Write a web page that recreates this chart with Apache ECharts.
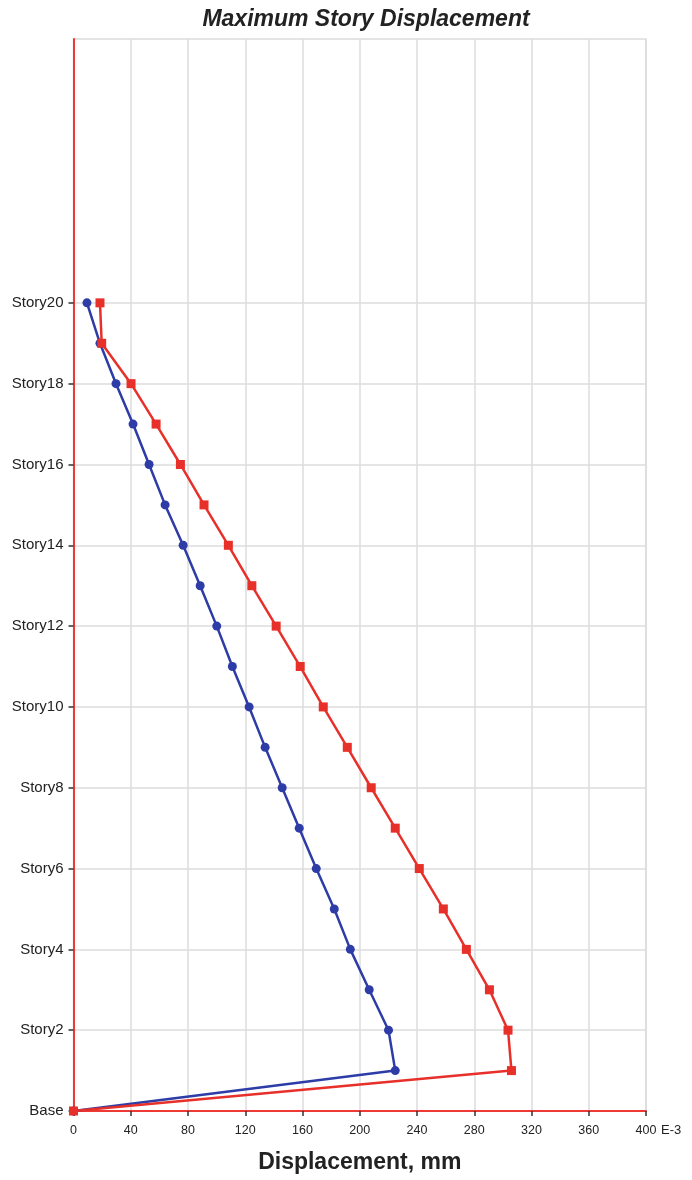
<!DOCTYPE html>
<html>
<head>
<meta charset="utf-8">
<script src="https://cdn.jsdelivr.net/npm/echarts@6/dist/echarts.min.js"></script>
<style>html,body{margin:0;padding:0;background:#fff}#c{width:692px;height:1180px}</style>
</head>
<body>
<div id="c"></div>
<script>
// Story levels (0 = Base) and their names
const storyLevels = [0,1,2,3,4,5,6,7,8,9,10,11,12,13,14,15,16,17,18,19,20];
const storyNames = ['Base','Story1','Story2','Story3','Story4','Story5','Story6','Story7','Story8','Story9','Story10',
  'Story11','Story12','Story13','Story14','Story15','Story16','Story17','Story18','Story19','Story20'];
// Displacement values (E-3 mm), Base -> Story20
const blueValues = [0, 224.8, 220.1, 206.6, 193.4, 182.2, 169.6, 157.7, 145.8, 133.9, 122.7,
  111.0, 100.1, 88.5, 76.6, 64.0, 52.8, 41.6, 29.7, 18.5, 9.4];
const redValues = [0, 306.0, 303.6, 290.6, 274.5, 258.4, 241.6, 224.8, 208.0, 191.3, 174.5,
  158.4, 141.6, 124.6, 108.2, 91.2, 74.7, 57.7, 40.2, 19.7, 18.5];
// Axis ticks
const xTicks = [0,40,80,120,160,200,240,280,320,360,400];
const yTickLevels = [0,2,4,6,8,10,12,14,16,18,20];

const textColor = '#222';
const chart = echarts.init(document.getElementById('c'));
chart.setOption({
  animation: false,
  backgroundColor: '#fff',
  title: {
    text: 'Maximum Story Displacement',
    left: 361, top: 3, textAlign: 'center',
    textStyle: {fontFamily: 'Liberation Sans', fontStyle: 'italic', fontWeight: 'bold', fontSize: 23, color: textColor}
  },
  grid: {left: 73.5, right: 46, top: 39, bottom: 69, show: true, borderColor: '#dcdcdc', borderWidth: 1.5, backgroundColor: 'transparent'},
  xAxis: {
    type: 'value', min: xTicks[0], max: xTicks[xTicks.length-1], interval: 40,
    name: 'Displacement, mm', nameLocation: 'middle', nameGap: 40,
    nameTextStyle: {fontFamily: 'Liberation Sans', fontWeight: 'bold', fontSize: 23, color: textColor},
    axisLine: {show: true, onZero: false, lineStyle: {color: '#ee3a35', width: 2}},
    axisTick: {show: true, length: 5, lineStyle: {color: '#333', width: 1.5}},
    axisLabel: {margin: 13, fontFamily: 'Liberation Sans', fontSize: 12.5, color: textColor},
    splitLine: {show: true, lineStyle: {color: '#dcdcdc', width: 1.5}}
  },
  yAxis: {
    type: 'value', min: 0, max: 26.53,
    axisLine: {show: true, onZero: false, lineStyle: {color: '#ee3a35', width: 2}},
    axisTick: {show: true, length: 5, customValues: yTickLevels, lineStyle: {color: '#333', width: 1.5}},
    axisLabel: {margin: 10, customValues: yTickLevels, fontFamily: 'Liberation Sans', fontSize: 15, color: textColor,
      formatter: v => storyNames[Math.round(v)] || ''},
    splitLine: {show: true, lineStyle: {color: '#dcdcdc', width: 1.5}}
  },
  graphic: [{
    type: 'text', left: 661, top: 1124,
    style: {text: 'E-3', fontFamily: 'Liberation Sans', fontSize: 13, fill: textColor}
  }],
  series: [
    {
      type: 'line', name: 'Blue',
      data: storyLevels.map((s, i) => [blueValues[i], s]),
      symbol: 'circle', symbolSize: 9,
      lineStyle: {color: '#2d3ca6', width: 2.5},
      itemStyle: {color: '#2d3ca6'}
    },
    {
      type: 'line', name: 'Red',
      data: storyLevels.map((s, i) => [redValues[i], s]),
      symbol: 'rect', symbolSize: 9,
      lineStyle: {color: '#e8302a', width: 2.5},
      itemStyle: {color: '#e8302a'}
    }
  ]
});
</script>
</body>
</html>
